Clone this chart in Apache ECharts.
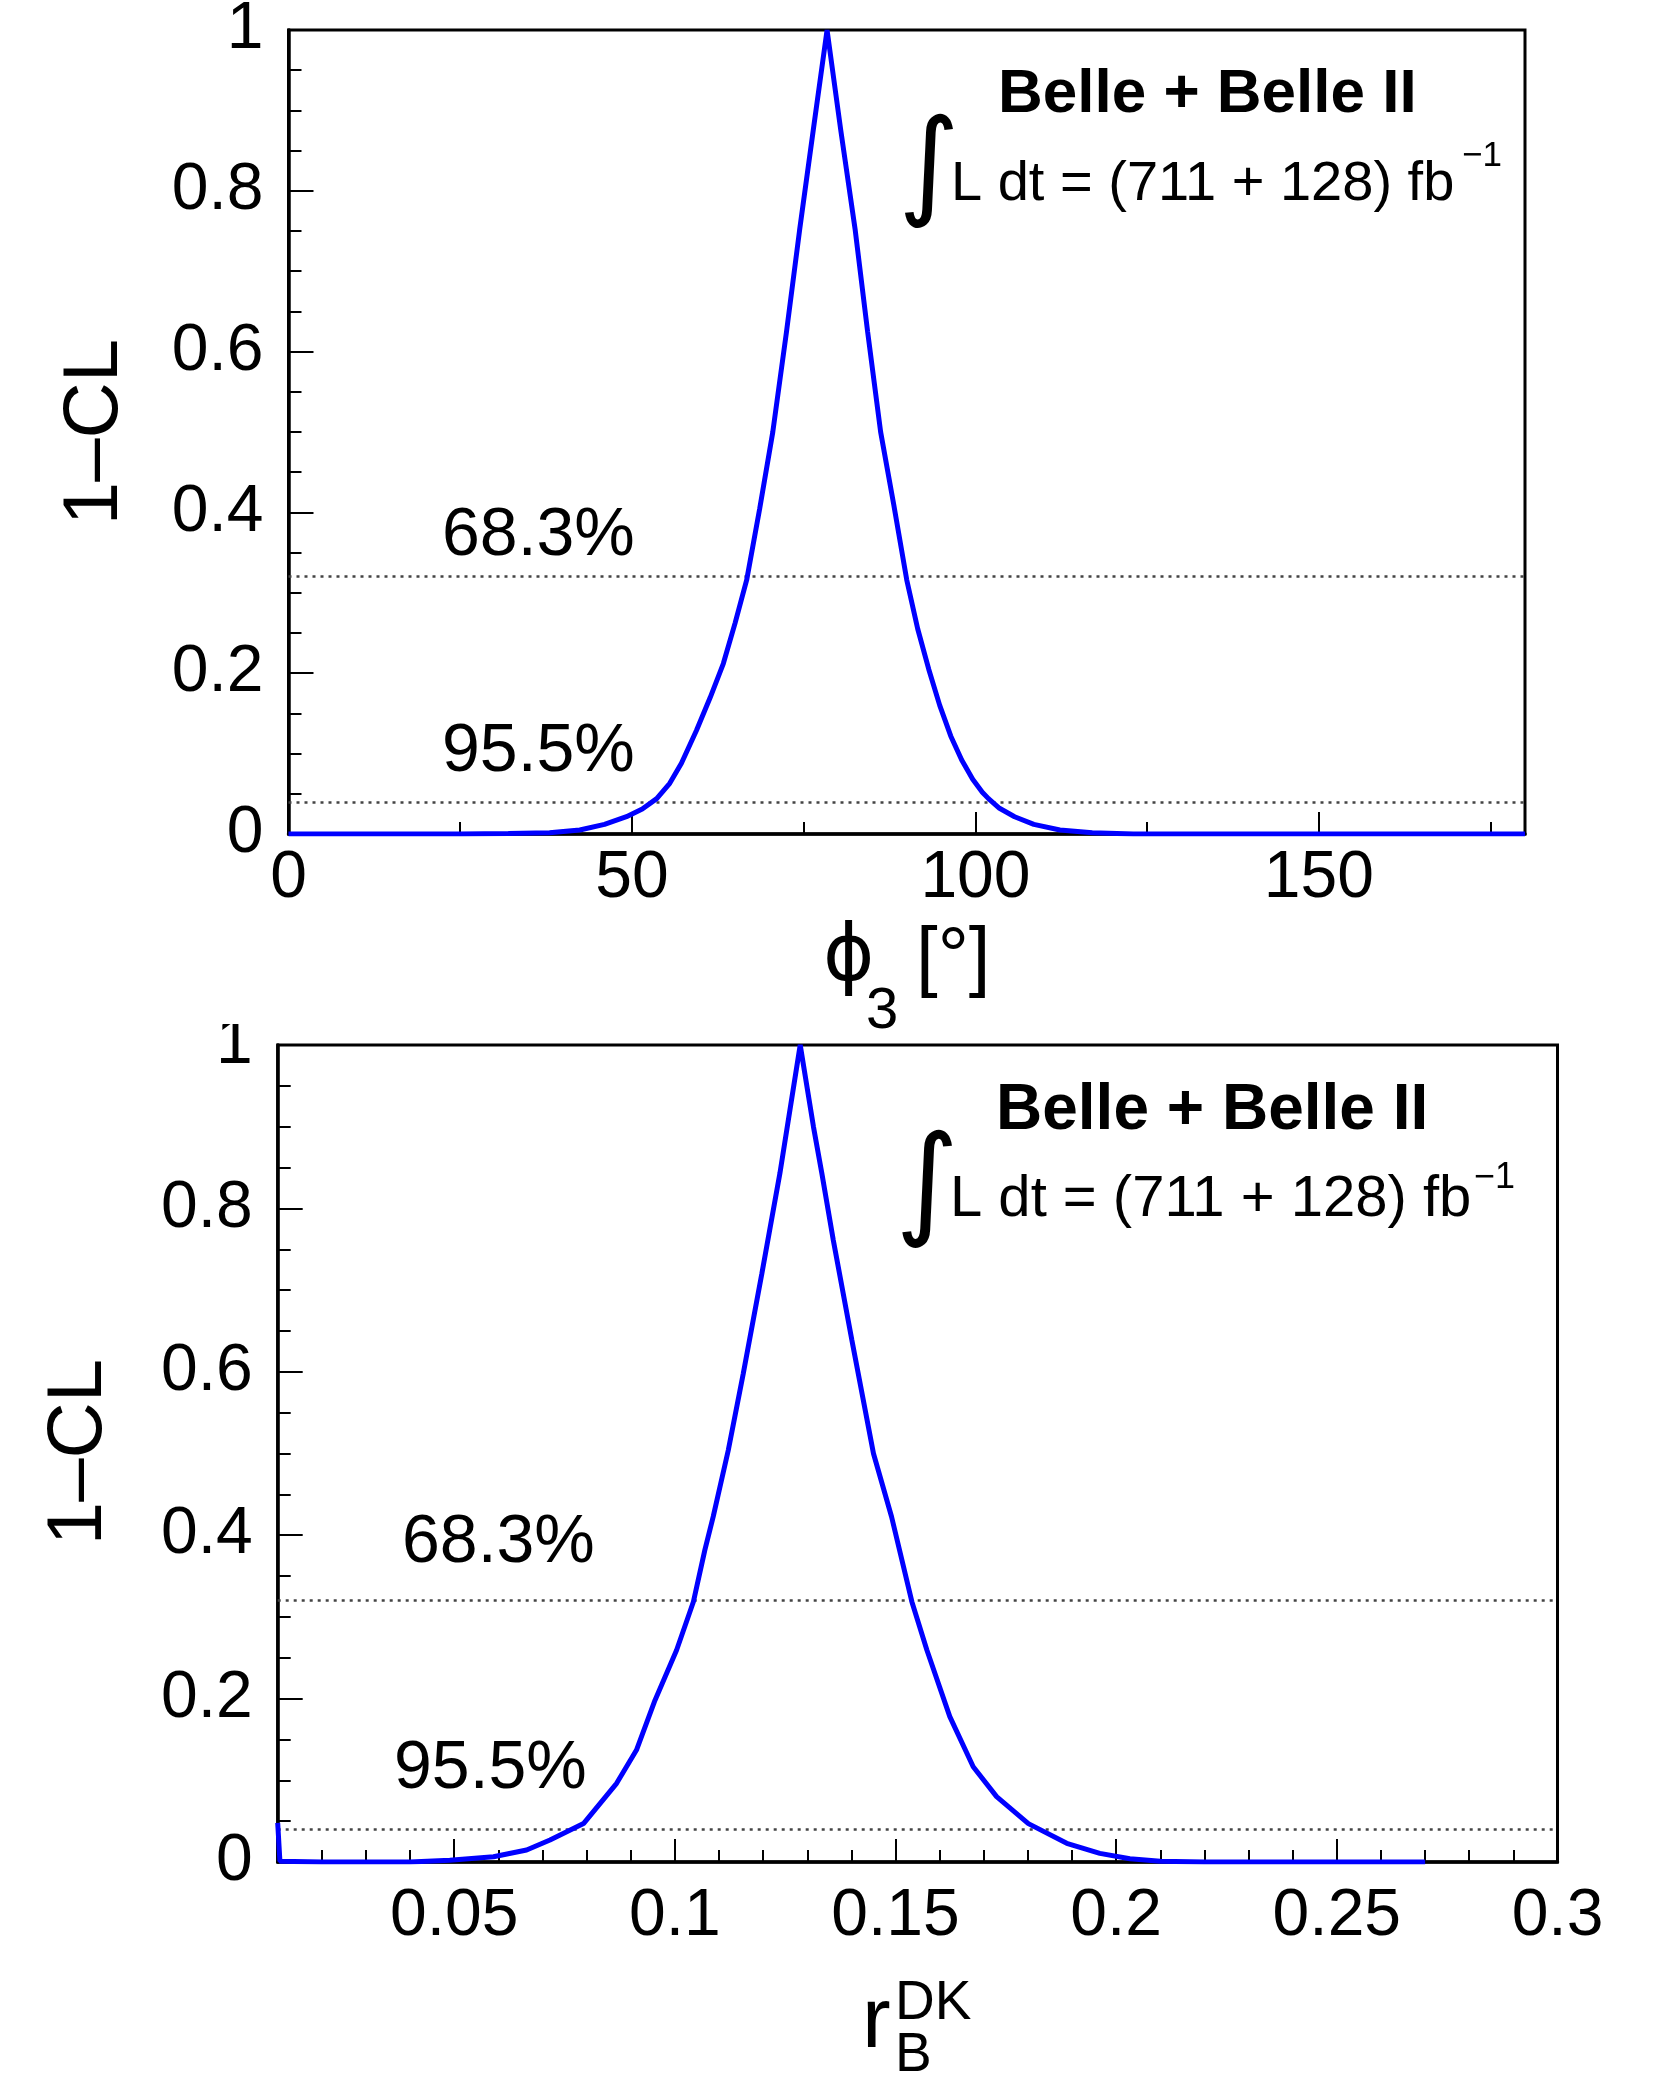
<!DOCTYPE html>
<html>
<head>
<meta charset="utf-8">
<title>1-CL scans: phi3 and rB(DK)</title>
<script src="https://cdn.jsdelivr.net/npm/echarts@6/dist/echarts.min.js"></script>
<style>
  html, body { margin: 0; padding: 0; background: #fff; }
  #main { width: 1655px; height: 2075px; }
</style>
</head>
<body>
<div id="main"></div>
<script>
// phi3 scan (degrees, 1-CL)
var phiX = [0, 25, 32, 38, 42.4, 46, 49.2, 51.5, 53.6, 55.5, 57.2, 59.4, 61.4, 63.3, 65.0, 66.7, 68.6, 70.5, 72.5, 74.4, 76.4, 78.4,
            80.4, 82.5, 84.3, 86.2, 88.1, 90.0, 91.6, 93.2, 94.8, 96.4, 98.0, 99.6, 101.0, 101.9, 103.5, 105.7, 108.5, 112.3, 117, 123, 180];
var phiCL = [0, 0, 0.0005, 0.0015, 0.005, 0.012, 0.0215, 0.031, 0.044, 0.063, 0.088, 0.129, 0.170, 0.212, 0.262, 0.316, 0.405, 0.500, 0.625, 0.751, 0.876, 1.0,
             0.875, 0.751, 0.625, 0.500, 0.410, 0.316, 0.255, 0.205, 0.160, 0.122, 0.092, 0.068, 0.052, 0.044, 0.032, 0.0215, 0.012, 0.005, 0.0015, 0, 0];
// rB(DK) scan
var rbX = [0.0100, 0.0105, 0.020, 0.030, 0.040, 0.049, 0.0589, 0.0664, 0.0717, 0.0793, 0.0868, 0.0913, 0.0955, 0.1004, 0.1042, 0.1068, 0.1087, 0.1121,
           0.1155, 0.1197, 0.1238, 0.1284, 0.1314, 0.1333, 0.1359, 0.1401, 0.1450, 0.1491, 0.1537, 0.1571, 0.1623, 0.1676, 0.1729, 0.1801, 0.1888,
           0.1963, 0.2031, 0.2100, 0.2200, 0.2700];
var rbCL = [0.048, 0.001, 0, 0, 0, 0.002, 0.0065, 0.0147, 0.027, 0.047, 0.0963, 0.137, 0.198, 0.2595, 0.3186, 0.382, 0.423, 0.504,
            0.598, 0.72, 0.843, 1.0, 0.90, 0.843, 0.761, 0.639, 0.50, 0.4226, 0.3186, 0.2595, 0.178, 0.1166, 0.080, 0.047, 0.0229,
            0.0106, 0.004, 0.001, 0, 0];
// confidence levels
var clLines = [0.317, 0.045];
var clNames = ['68.3%', '95.5%'];
// tick values
var phiMajor = [0, 50, 100, 150];
var phiMinor = [25, 75, 125, 175];
var rbMajor = [0.05, 0.1, 0.15, 0.2, 0.25, 0.3];
var rbMinor = [0.01, 0.02, 0.03, 0.04, 0.06, 0.07, 0.08, 0.09, 0.11, 0.12, 0.13, 0.14, 0.16, 0.17, 0.18, 0.19,
               0.21, 0.22, 0.23, 0.24, 0.26, 0.27, 0.28, 0.29];
var clMajor = [0, 0.2, 0.4, 0.6, 0.8, 1];
var clMinor = [0.05, 0.1, 0.15, 0.25, 0.3, 0.35, 0.45, 0.5, 0.55, 0.65, 0.7, 0.75, 0.85, 0.9, 0.95];

var FONT = 'Liberation Sans, Arial, Helvetica, sans-serif';
var chart = echarts.init(document.getElementById('main'), null, { renderer: 'canvas' });

function pairs(xs, ys) {
    return xs.map(function (x, i) { return [x, ys[i]]; });
}

// one axis with labels + long ticks, one with short ticks only
function axes(grid, pos, min, max, major, minor, longLen, shortLen, margin) {
    var base = {
        type: 'value', gridIndex: grid, position: pos, min: min, max: max,
        splitLine: { show: false }
    };
    var a = echarts.util.merge({
        axisLine: { show: true, onZero: false, lineStyle: { color: '#000', width: 3.5 } },
        axisTick: { show: true, inside: true, length: longLen, customValues: major, lineStyle: { color: '#000', width: 2 } },
        axisLabel: { show: true, customValues: major, margin: margin, color: '#000', fontSize: 66, fontFamily: FONT }
    }, base, true);
    var b = echarts.util.merge({
        axisLine: { show: false, onZero: false },
        axisTick: { show: true, inside: true, length: shortLen, customValues: minor, lineStyle: { color: '#000', width: 2 } },
        axisLabel: { show: false }
    }, base, true);
    return [a, b];
}

function curve(grid, data) {
    return {
        type: 'line', xAxisIndex: grid * 2, yAxisIndex: grid * 2,
        data: data, showSymbol: false, symbol: 'none', silent: true, z: 5,
        lineStyle: { color: '#0000ff', width: 5 },
        itemStyle: { color: '#0000ff' },
        markLine: {
            silent: true, symbol: ['none', 'none'], label: { show: false },
            lineStyle: { color: '#444', width: 2.5, type: [3, 5] },
            data: clLines.map(function (v) { return { yAxis: v }; })
        }
    };
}

function txt(x, y, s, size, extra) {
    var st = { text: s, x: 0, y: 0, fill: '#000', fontSize: size, fontFamily: FONT, align: 'left', verticalAlign: 'middle' };
    if (extra && extra.style) { for (var k in extra.style) st[k] = extra.style[k]; }
    return { type: 'text', x: x, y: y, rotation: (extra && extra.rotation) || 0, z: 50, style: st };
}

var xAx = axes(0, 'bottom', 0, 180, phiMajor, phiMinor, 22, 12, 12)
    .concat(axes(1, 'bottom', 0.01, 0.3, rbMajor, rbMinor, 23, 12, 22));
var yAx = axes(0, 'left', 0, 1, clMajor, clMinor, 25, 13, 25)
    .concat(axes(1, 'left', 0, 1, clMajor, clMinor, 25, 13, 25));

var graphics = [
    // y titles
    txt(95, 432, '1\u2013CL', 78, { rotation: Math.PI / 2, style: { align: 'center' } }),
    txt(79, 1452, '1\u2013CL', 78, { rotation: Math.PI / 2, style: { align: 'center' } }),
    // CL labels
    txt(442, 536, clNames[0], 68), txt(442, 752, clNames[1], 68),
    txt(402, 1543, clNames[0], 68), txt(394, 1769, clNames[1], 68),
    // experiment label
    txt(998, 95, 'Belle + Belle II', 62, { style: { fontWeight: 'bold' } }),
    txt(996, 1111, 'Belle + Belle II', 64, { style: { fontWeight: 'bold' } }),
    txt(929, 172, '\u222B', 118, { style: { align: 'center', fontFamily: 'DejaVu Sans, sans-serif' } }),
    txt(927, 1190, '\u222B', 122, { style: { align: 'center', fontFamily: 'DejaVu Sans, sans-serif' } }),
    txt(951, 185, 'L dt = (711 + 128) fb', 56),
    txt(1462, 156, '\u22121', 35),
    txt(950, 1200, 'L dt = (711 + 128) fb', 58),
    txt(1474, 1178, '\u22121', 36),
    // x titles
    txt(823, 960, '\u03D5', 78, { style: { fontFamily: 'DejaVu Sans, sans-serif' } }),
    txt(866, 1012, '3', 58),
    txt(916, 960, '[\u00B0]', 78),
    txt(862, 2023, 'r', 86),
    txt(895, 2004, 'DK', 55),
    txt(895, 2056, 'B', 55),
    // picture was cropped just above the lower panel
    { type: 'rect', z: 60, shape: { x: 190, y: 1000, width: 80, height: 24 }, style: { fill: '#fff' } }
];

var option = {
    backgroundColor: '#fff',
    animation: false,
    grid: [
        { left: 288.5, top: 30, width: 1236.5, height: 804, show: true, borderColor: '#000', borderWidth: 3, backgroundColor: 'transparent', outerBoundsMode: 'none' },
        { left: 277.7, top: 1045, width: 1279.8, height: 817, show: true, borderColor: '#000', borderWidth: 3, backgroundColor: 'transparent', outerBoundsMode: 'none' }
    ],
    xAxis: xAx,
    yAxis: yAx,
    series: [curve(0, pairs(phiX, phiCL)), curve(1, pairs(rbX, rbCL))],
    graphic: graphics
};
chart.setOption(option);
</script>
</body>
</html>
